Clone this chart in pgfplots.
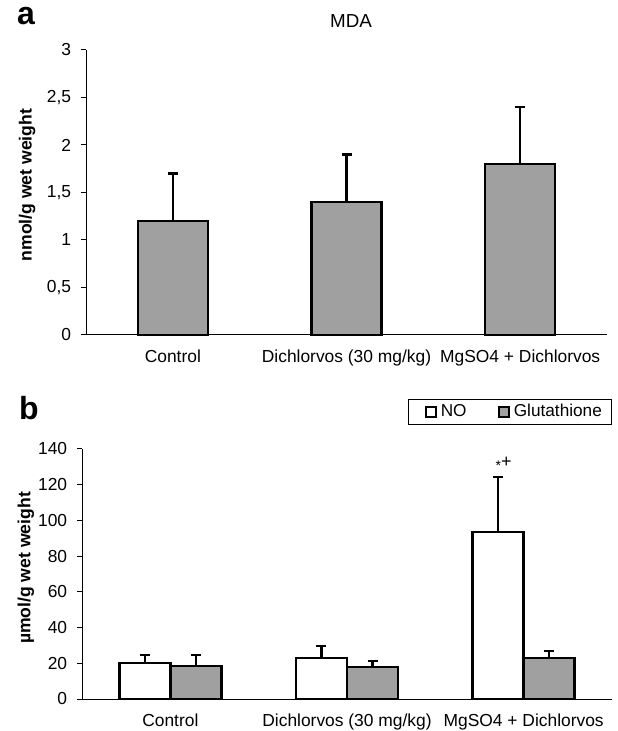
\documentclass[border=0pt]{standalone}
\usepackage{fontspec}
\setmainfont{Liberation Sans}
\usepackage{pgfplots}
\pgfplotsset{compat=1.18}
\usepackage{pgfplotstable}

\definecolor{barGray}{RGB}{160,160,160}

% panel a: MDA
\pgfplotstableread{
x  val  err
1  1.2  0.5
2  1.4  0.5
3  1.8  0.6
}\mda
% panel b, bars sit left/right of the group centre
\pgfplotstableread{
x       val   err
0.8555  20.2  4.4
1.8555  23.0  6.7
2.8555  93.5  30.8
}\no
\pgfplotstableread{
x       val   err
1.1445  18.5  6.1
2.1445  17.9  3.4
3.1445  23.0  3.9
}\glut

\pgfplotsset{
  panel/.style={
    scale only axis,
    axis x line*=bottom, axis y line*=left,
    axis line style={-, black, line width=0.5pt},
    xmin=0.5, xmax=3.5, ymin=0,
    xtick={1,2,3},
    xticklabels={Control, Dichlorvos (30 mg/kg), MgSO4 + Dichlorvos},
    major x tick style={draw=none},
    extra x ticks={1.5,2.5,3.5},
    extra x tick labels={},
    extra x tick style={major tick length=2.6pt, tick style={black, line width=0.5pt}},
    tick align=outside,
    major tick length=2.4pt,
    tick style={black, line width=0.5pt},
    ticklabel style={font=\fontsize{8.7}{10}\selectfont},
    xticklabel style={anchor=base, yshift=-11.5pt},
    yticklabel style={anchor=east, xshift=-1.5pt},
    ylabel style={font=\fontsize{8.8}{10}\selectfont\bfseries, anchor=center},
    /pgf/number format/assume math mode=true,
    /pgf/number format/use comma,
    /pgf/number format/1000 sep={},
    clip=false,
  },
  bars/.style={
    ybar, bar shift=0pt, draw=black, line width=1.25pt,
    error bars/.cd, y dir=plus, y explicit,
    error bar style={line width=1.2pt, black},
    error mark options={rotate=90, line width=1.3pt, mark size=2.5pt, black},
  },
}

\begin{document}
\begin{tikzpicture}
\useasboundingbox (0,0) rectangle (308.5pt,365.5pt);

\node[anchor=base west, font=\fontsize{16}{18}\selectfont\bfseries] at (5pt,353pt) {a};
\node[anchor=base west, font=\fontsize{16}{18}\selectfont\bfseries] at (6pt,155.5pt) {b};
\node[font=\fontsize{9.4}{11}\selectfont] at (175.5pt,355pt) {MDA};

\begin{axis}[panel,
  at={(43pt,198pt)}, anchor=south west,
  width=260.5pt, height=142.5pt,
  ymax=3, ytick={0,0.5,1,1.5,2,2.5,3},
  ylabel={nmol/g wet weight},
  ylabel style={at={(axis description cs:-0.113,0.526)}},
  bar width=0.403,
]
\addplot[fill=barGray, bars] table[x=x, y=val, y error=err] {\mda};
\end{axis}

\begin{axis}[panel,
  at={(41pt,16pt)}, anchor=south west,
  width=265pt, height=125pt,
  ymax=140, ytick={0,20,...,140},
  ylabel={µmol/g wet weight},
  ylabel style={at={(axis description cs:-0.106,0.524)}},
  bar width=0.289,
  legend columns=2,
  legend style={at={(axis description cs:0.615,1.2)}, anchor=north west,
    draw=black, line width=0.6pt, inner xsep=3pt, inner ysep=0.4pt,
    font=\fontsize{8.6}{10}\selectfont,
    /tikz/every even column/.append style={column sep=8.5pt}},
  legend image code/.code={
    \path (-5pt,0pt);
    \draw[#1, line width=1pt] (0pt,-2.5pt) rectangle (5pt,2.5pt);},
]
\addplot[fill=white, bars] table[x=x, y=val, y error=err] {\no};
\addplot[fill=barGray, bars] table[x=x, y=val, y error=err] {\glut};
\legend{NO, Glutathione}
\node[font=\fontsize{9}{10}\selectfont, xshift=2.75pt, yshift=6.5pt]
  at (axis cs:2.8555,124.3) {\raisebox{-1.6pt}{\scriptsize *}+};
\end{axis}
\end{tikzpicture}
\end{document}
